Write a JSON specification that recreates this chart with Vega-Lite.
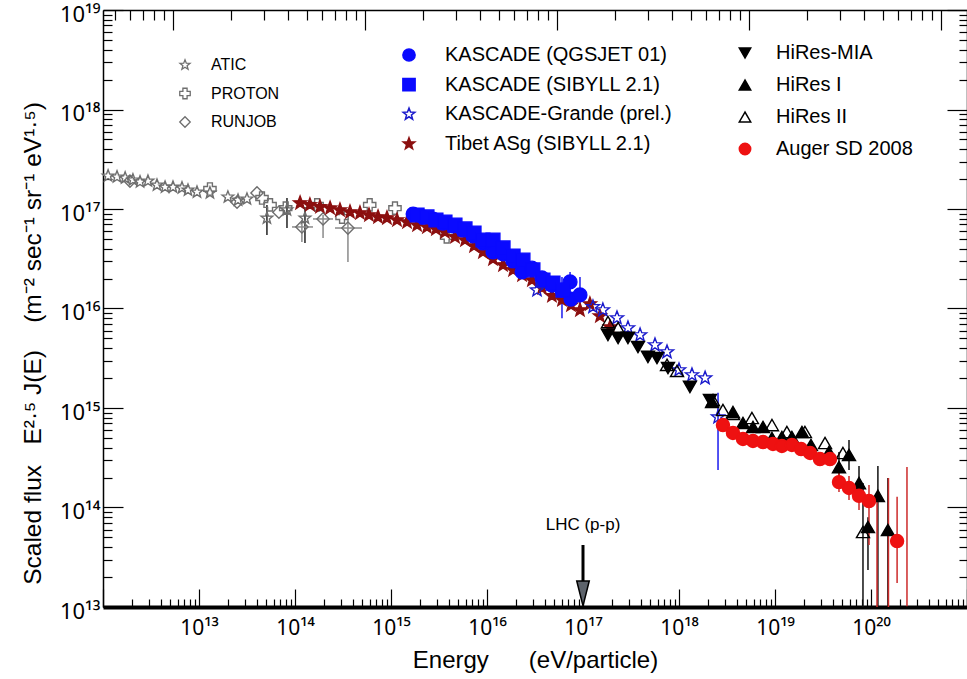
{
  "$schema": "https://vega.github.io/schema/vega-lite/v6.json",
  "width": 864,
  "height": 597,
  "autosize": {"type": "none"},
  "padding": {"left": 103, "top": 10, "right": 0, "bottom": 72},
  "background": "white",
  "config": {
    "font": "Liberation Sans",
    "view": {"stroke": null},
    "legend": {"labelFont": "Liberation Sans", "labelColor": "black", "padding": 0, "symbolStrokeWidth": 1.5, "labelLimit": 400}
  },
  "datasets": {
    "pts": [
      {"s": "ATIC", "E": 1.13e12, "J": 2.15e17},
      {"s": "ATIC", "E": 1.40e12, "J": 2.10e17},
      {"s": "ATIC", "E": 1.70e12, "J": 2.05e17},
      {"s": "ATIC", "E": 2.05e12, "J": 1.96e17},
      {"s": "ATIC", "E": 2.43e12, "J": 1.87e17},
      {"s": "ATIC", "E": 2.94e12, "J": 1.91e17},
      {"s": "ATIC", "E": 3.65e12, "J": 1.74e17},
      {"s": "ATIC", "E": 4.43e12, "J": 1.66e17},
      {"s": "ATIC", "E": 5.36e12, "J": 1.66e17},
      {"s": "ATIC", "E": 6.65e12, "J": 1.63e17},
      {"s": "ATIC", "E": 7.68e12, "J": 1.55e17},
      {"s": "ATIC", "E": 9.53e12, "J": 1.48e17},
      {"s": "ATIC", "E": 1.30e13, "J": 1.45e17},
      {"s": "ATIC", "E": 2.00e13, "J": 1.32e17},
      {"s": "ATIC", "E": 2.55e13, "J": 1.23e17},
      {"s": "ATIC", "E": 3.16e13, "J": 1.26e17},
      {"s": "ATIC", "E": 5.10e13, "J": 8.1e16},
      {"s": "ATIC", "E": 8.25e13, "J": 9.8e16},
      {"s": "ATIC", "E": 1.27e14, "J": 8.1e16},
      {"s": "PROTON", "E": 1.30e13, "J": 1.59e17},
      {"s": "PROTON", "E": 4.53e13, "J": 1.29e17},
      {"s": "PROTON", "E": 5.50e13, "J": 1.10e17},
      {"s": "PROTON", "E": 8.00e13, "J": 1.02e17},
      {"s": "PROTON", "E": 1.70e14, "J": 1.10e17},
      {"s": "PROTON", "E": 3.09e14, "J": 8.3e16},
      {"s": "PROTON", "E": 6.00e14, "J": 1.10e17},
      {"s": "PROTON", "E": 1.10e15, "J": 1.02e17},
      {"s": "PROTON", "E": 3.80e15, "J": 5.25e16},
      {"s": "RUNJOB", "E": 1.91e12, "J": 1.91e17},
      {"s": "RUNJOB", "E": 2.49e13, "J": 1.17e17},
      {"s": "RUNJOB", "E": 4.02e13, "J": 1.45e17},
      {"s": "RUNJOB", "E": 6.80e13, "J": 9.3e16},
      {"s": "RUNJOB", "E": 1.18e14, "J": 6.6e16},
      {"s": "RUNJOB", "E": 1.96e14, "J": 7.94e16},
      {"s": "RUNJOB", "E": 3.56e14, "J": 6.44e16},
      {"s": "Tibet ASg (SIBYLL 2.1)", "E": 1.13e14, "J": 1.15e17},
      {"s": "Tibet ASg (SIBYLL 2.1)", "E": 1.43e14, "J": 1.10e17},
      {"s": "Tibet ASg (SIBYLL 2.1)", "E": 1.82e14, "J": 1.05e17},
      {"s": "Tibet ASg (SIBYLL 2.1)", "E": 2.32e14, "J": 1.02e17},
      {"s": "Tibet ASg (SIBYLL 2.1)", "E": 2.94e14, "J": 9.77e16},
      {"s": "Tibet ASg (SIBYLL 2.1)", "E": 3.74e14, "J": 9.33e16},
      {"s": "Tibet ASg (SIBYLL 2.1)", "E": 4.75e14, "J": 9.12e16},
      {"s": "Tibet ASg (SIBYLL 2.1)", "E": 5.90e14, "J": 8.71e16},
      {"s": "Tibet ASg (SIBYLL 2.1)", "E": 7.33e14, "J": 8.32e16},
      {"s": "Tibet ASg (SIBYLL 2.1)", "E": 9.08e14, "J": 8.13e16},
      {"s": "Tibet ASg (SIBYLL 2.1)", "E": 1.155e15, "J": 7.75e16},
      {"s": "Tibet ASg (SIBYLL 2.1)", "E": 1.47e15, "J": 7.40e16},
      {"s": "Tibet ASg (SIBYLL 2.1)", "E": 1.87e15, "J": 6.90e16},
      {"s": "Tibet ASg (SIBYLL 2.1)", "E": 2.37e15, "J": 6.59e16},
      {"s": "Tibet ASg (SIBYLL 2.1)", "E": 2.94e15, "J": 6.30e16},
      {"s": "Tibet ASg (SIBYLL 2.1)", "E": 3.65e15, "J": 5.87e16},
      {"s": "Tibet ASg (SIBYLL 2.1)", "E": 4.64e15, "J": 5.24e16},
      {"s": "Tibet ASg (SIBYLL 2.1)", "E": 5.90e15, "J": 4.88e16},
      {"s": "Tibet ASg (SIBYLL 2.1)", "E": 7.33e15, "J": 4.25e16},
      {"s": "Tibet ASg (SIBYLL 2.1)", "E": 9.08e15, "J": 3.70e16},
      {"s": "Tibet ASg (SIBYLL 2.1)", "E": 1.155e16, "J": 3.14e16},
      {"s": "Tibet ASg (SIBYLL 2.1)", "E": 1.47e16, "J": 2.74e16},
      {"s": "Tibet ASg (SIBYLL 2.1)", "E": 1.87e16, "J": 2.44e16},
      {"s": "Tibet ASg (SIBYLL 2.1)", "E": 2.32e16, "J": 2.17e16},
      {"s": "Tibet ASg (SIBYLL 2.1)", "E": 2.94e16, "J": 1.93e16},
      {"s": "Tibet ASg (SIBYLL 2.1)", "E": 3.74e16, "J": 1.61e16},
      {"s": "Tibet ASg (SIBYLL 2.1)", "E": 4.75e16, "J": 1.34e16},
      {"s": "Tibet ASg (SIBYLL 2.1)", "E": 6.04e16, "J": 1.22e16},
      {"s": "Tibet ASg (SIBYLL 2.1)", "E": 7.50e16, "J": 1.08e16},
      {"s": "Tibet ASg (SIBYLL 2.1)", "E": 9.30e16, "J": 9.66e15},
      {"s": "Tibet ASg (SIBYLL 2.1)", "E": 1.18e17, "J": 1.11e16},
      {"s": "Tibet ASg (SIBYLL 2.1)", "E": 1.50e17, "J": 8.4e15},
      {"s": "Tibet ASg (SIBYLL 2.1)", "E": 1.91e17, "J": 6.5e15},
      {"s": "KASCADE (QGSJET 01)", "E": 1.70e15, "J": 8.9e16},
      {"s": "KASCADE (QGSJET 01)", "E": 2.15e15, "J": 8.3e16},
      {"s": "KASCADE (QGSJET 01)", "E": 2.74e15, "J": 7.94e16},
      {"s": "KASCADE (QGSJET 01)", "E": 3.47e15, "J": 7.2e16},
      {"s": "KASCADE (QGSJET 01)", "E": 4.42e15, "J": 6.75e16},
      {"s": "KASCADE (QGSJET 01)", "E": 5.62e15, "J": 6.15e16},
      {"s": "KASCADE (QGSJET 01)", "E": 7.15e15, "J": 5.36e16},
      {"s": "KASCADE (QGSJET 01)", "E": 9.08e15, "J": 4.55e16},
      {"s": "KASCADE (QGSJET 01)", "E": 1.155e16, "J": 3.70e16},
      {"s": "KASCADE (QGSJET 01)", "E": 1.47e16, "J": 3.53e16},
      {"s": "KASCADE (QGSJET 01)", "E": 1.87e16, "J": 3.0e16},
      {"s": "KASCADE (QGSJET 01)", "E": 2.32e16, "J": 2.33e16},
      {"s": "KASCADE (QGSJET 01)", "E": 2.94e16, "J": 2.55e16},
      {"s": "KASCADE (QGSJET 01)", "E": 3.74e16, "J": 2.03e16},
      {"s": "KASCADE (QGSJET 01)", "E": 4.75e16, "J": 1.72e16},
      {"s": "KASCADE (QGSJET 01)", "E": 6.04e16, "J": 1.53e16},
      {"s": "KASCADE (QGSJET 01)", "E": 7.33e16, "J": 1.85e16},
      {"s": "KASCADE (QGSJET 01)", "E": 7.50e16, "J": 1.24e16},
      {"s": "KASCADE (QGSJET 01)", "E": 9.30e16, "J": 1.37e16},
      {"s": "KASCADE (SIBYLL 2.1)", "E": 1.87e15, "J": 8.71e16},
      {"s": "KASCADE (SIBYLL 2.1)", "E": 2.37e15, "J": 8.32e16},
      {"s": "KASCADE (SIBYLL 2.1)", "E": 2.94e15, "J": 7.75e16},
      {"s": "KASCADE (SIBYLL 2.1)", "E": 3.65e15, "J": 7.40e16},
      {"s": "KASCADE (SIBYLL 2.1)", "E": 4.64e15, "J": 6.90e16},
      {"s": "KASCADE (SIBYLL 2.1)", "E": 5.90e15, "J": 6.30e16},
      {"s": "KASCADE (SIBYLL 2.1)", "E": 7.33e15, "J": 5.74e16},
      {"s": "KASCADE (SIBYLL 2.1)", "E": 9.08e15, "J": 4.88e16},
      {"s": "KASCADE (SIBYLL 2.1)", "E": 1.155e16, "J": 4.88e16},
      {"s": "KASCADE (SIBYLL 2.1)", "E": 1.47e16, "J": 4.06e16},
      {"s": "KASCADE (SIBYLL 2.1)", "E": 1.87e16, "J": 3.37e16},
      {"s": "KASCADE (SIBYLL 2.1)", "E": 2.37e16, "J": 3.07e16},
      {"s": "KASCADE (SIBYLL 2.1)", "E": 3.01e16, "J": 2.44e16},
      {"s": "KASCADE (SIBYLL 2.1)", "E": 3.83e16, "J": 1.93e16},
      {"s": "KASCADE (SIBYLL 2.1)", "E": 4.87e16, "J": 1.80e16},
      {"s": "KASCADE (SIBYLL 2.1)", "E": 6.19e16, "J": 1.53e16},
      {"s": "KASCADE-Grande (prel.)", "E": 3.32e16, "J": 1.53e16},
      {"s": "KASCADE-Grande (prel.)", "E": 1.27e17, "J": 1.04e16},
      {"s": "KASCADE-Grande (prel.)", "E": 1.61e17, "J": 9.66e15},
      {"s": "KASCADE-Grande (prel.)", "E": 2.26e17, "J": 8.04e15},
      {"s": "KASCADE-Grande (prel.)", "E": 2.94e17, "J": 6.37e15},
      {"s": "KASCADE-Grande (prel.)", "E": 3.93e17, "J": 5.42e15},
      {"s": "KASCADE-Grande (prel.)", "E": 5.62e17, "J": 4.30e15},
      {"s": "KASCADE-Grande (prel.)", "E": 7.50e17, "J": 3.66e15},
      {"s": "KASCADE-Grande (prel.)", "E": 1.00e18, "J": 2.41e15},
      {"s": "KASCADE-Grande (prel.)", "E": 1.365e18, "J": 2.15e15},
      {"s": "KASCADE-Grande (prel.)", "E": 1.87e18, "J": 2.0e15},
      {"s": "KASCADE-Grande (prel.)", "E": 2.55e18, "J": 8.1e14},
      {"s": "HiRes-MIA", "E": 1.82e17, "J": 5.42e15},
      {"s": "HiRes-MIA", "E": 2.32e17, "J": 5.06e15},
      {"s": "HiRes-MIA", "E": 2.94e17, "J": 5.06e15},
      {"s": "HiRes-MIA", "E": 3.74e17, "J": 4.10e15},
      {"s": "HiRes-MIA", "E": 4.75e17, "J": 3.26e15},
      {"s": "HiRes-MIA", "E": 5.90e17, "J": 3.18e15},
      {"s": "HiRes-MIA", "E": 7.68e17, "J": 2.52e15},
      {"s": "HiRes-MIA", "E": 1.30e18, "J": 1.63e15},
      {"s": "HiRes-MIA", "E": 2.10e18, "J": 1.20e15},
      {"s": "HiRes I", "E": 2.21e18, "J": 1.15e15},
      {"s": "HiRes I", "E": 3.65e18, "J": 9.1e14},
      {"s": "HiRes I", "E": 4.64e18, "J": 7.07e14},
      {"s": "HiRes I", "E": 5.90e18, "J": 6.44e14},
      {"s": "HiRes I", "E": 7.50e18, "J": 6.44e14},
      {"s": "HiRes I", "E": 9.30e18, "J": 4.99e14},
      {"s": "HiRes I", "E": 1.18e19, "J": 5.11e14},
      {"s": "HiRes I", "E": 1.50e19, "J": 5.11e14},
      {"s": "HiRes I", "E": 1.91e19, "J": 5.74e14},
      {"s": "HiRes I", "E": 2.37e19, "J": 4.25e14},
      {"s": "HiRes I", "E": 3.65e19, "J": 3.61e14},
      {"s": "HiRes I", "E": 4.64e19, "J": 2.55e14},
      {"s": "HiRes I", "E": 5.90e19, "J": 3.37e14},
      {"s": "HiRes I", "E": 7.50e19, "J": 1.76e14},
      {"s": "HiRes I", "E": 9.30e19, "J": 6.37e13},
      {"s": "HiRes I", "E": 1.18e20, "J": 1.31e14},
      {"s": "HiRes I", "E": 1.50e20, "J": 5.94e13},
      {"s": "HiRes II", "E": 1.82e17, "J": 7.3e15},
      {"s": "HiRes II", "E": 2.32e17, "J": 6.37e15},
      {"s": "HiRes II", "E": 7.50e17, "J": 2.71e15},
      {"s": "HiRes II", "E": 9.53e17, "J": 2.36e15},
      {"s": "HiRes II", "E": 2.26e18, "J": 1.20e15},
      {"s": "HiRes II", "E": 2.87e18, "J": 9.55e14},
      {"s": "HiRes II", "E": 3.65e18, "J": 8.7e14},
      {"s": "HiRes II", "E": 5.75e18, "J": 7.93e14},
      {"s": "HiRes II", "E": 9.30e18, "J": 6.74e14},
      {"s": "HiRes II", "E": 1.33e19, "J": 5.74e14},
      {"s": "HiRes II", "E": 2.05e19, "J": 5.74e14},
      {"s": "HiRes II", "E": 3.32e19, "J": 4.45e14},
      {"s": "HiRes II", "E": 5.10e19, "J": 3.53e14},
      {"s": "HiRes II", "E": 8.25e19, "J": 5.67e13},
      {"s": "Auger SD 2008", "E": 2.87e18, "J": 6.74e14},
      {"s": "Auger SD 2008", "E": 3.65e18, "J": 5.61e14},
      {"s": "Auger SD 2008", "E": 4.64e18, "J": 4.88e14},
      {"s": "Auger SD 2008", "E": 5.90e18, "J": 4.66e14},
      {"s": "Auger SD 2008", "E": 7.50e18, "J": 4.55e14},
      {"s": "Auger SD 2008", "E": 9.53e18, "J": 4.35e14},
      {"s": "Auger SD 2008", "E": 1.18e19, "J": 4.15e14},
      {"s": "Auger SD 2008", "E": 1.50e19, "J": 4.25e14},
      {"s": "Auger SD 2008", "E": 1.87e19, "J": 3.87e14},
      {"s": "Auger SD 2008", "E": 2.32e19, "J": 3.53e14},
      {"s": "Auger SD 2008", "E": 2.94e19, "J": 3.07e14},
      {"s": "Auger SD 2008", "E": 3.74e19, "J": 3.07e14},
      {"s": "Auger SD 2008", "E": 4.64e19, "J": 1.80e14},
      {"s": "Auger SD 2008", "E": 5.90e19, "J": 1.57e14},
      {"s": "Auger SD 2008", "E": 7.50e19, "J": 1.31e14},
      {"s": "Auger SD 2008", "E": 9.53e19, "J": 1.16e14},
      {"s": "Auger SD 2008", "E": 1.87e20, "J": 4.6e13}
    ],
    "err": [
      {"s": "ATIC", "E": 5.10e13, "lo": 5.48e16, "hi": 1.10e17},
      {"s": "ATIC", "E": 8.25e13, "lo": 6.44e16, "hi": 1.29e17},
      {"s": "ATIC", "E": 1.27e14, "lo": 4.55e16, "hi": 1.05e17},
      {"s": "RUNJOB", "E": 1.18e14, "lo": 4.66e16, "hi": 7.40e16},
      {"s": "RUNJOB", "E": 1.96e14, "lo": 5.12e16, "hi": 8.71e16},
      {"s": "RUNJOB", "E": 3.56e14, "lo": 2.93e16, "hi": 7.75e16},
      {"s": "KASCADE (QGSJET 01)", "E": 7.33e16, "lo": 1.37e16, "hi": 2.33e16},
      {"s": "KASCADE (QGSJET 01)", "E": 9.30e16, "lo": 9.0e15, "hi": 2.07e16},
      {"s": "KASCADE (QGSJET 01)", "E": 6.04e16, "lo": 8.0e15, "hi": 2.07e16},
      {"s": "KASCADE-Grande (prel.)", "E": 2.55e18, "lo": 2.38e14, "hi": 1.42e15},
      {"s": "HiRes I", "E": 4.64e19, "lo": 1.80e14, "hi": 3.61e14},
      {"s": "HiRes I", "E": 5.90e19, "lo": 2.38e14, "hi": 4.77e14},
      {"s": "HiRes I", "E": 7.50e19, "lo": 1.2e14, "hi": 2.61e14},
      {"s": "HiRes II", "E": 8.25e19, "lo": 1.0e13, "hi": 1.76e14},
      {"s": "HiRes I", "E": 9.30e19, "lo": 2.35e13, "hi": 8.0e13},
      {"s": "HiRes I", "E": 1.18e20, "lo": 1.0e13, "hi": 2.61e14},
      {"s": "HiRes I", "E": 1.50e20, "lo": 1.0e13, "hi": 1.98e14},
      {"s": "Auger SD 2008", "E": 4.64e19, "lo": 1.43e14, "hi": 2.27e14},
      {"s": "Auger SD 2008", "E": 5.90e19, "lo": 1.19e14, "hi": 2.07e14},
      {"s": "Auger SD 2008", "E": 7.50e19, "lo": 9.44e13, "hi": 1.72e14},
      {"s": "Auger SD 2008", "E": 9.53e19, "lo": 4.20e13, "hi": 1.68e14},
      {"s": "Auger SD 2008", "E": 1.87e20, "lo": 1.74e13, "hi": 1.28e14},
      {"s": "Auger SD 2008", "E": 1.155e20, "lo": 1.0e13, "hi": 1.40e14},
      {"s": "Auger SD 2008", "E": 1.52e20, "lo": 1.0e13, "hi": 1.98e14},
      {"s": "Auger SD 2008", "E": 2.37e20, "lo": 1.02e13, "hi": 2.55e14}
    ],
    "xerr": [
      {"s": "RUNJOB", "E1": 9.3e13, "E2": 1.54e14, "J": 6.6e16},
      {"s": "RUNJOB", "E1": 1.54e14, "E2": 2.49e14, "J": 7.94e16},
      {"s": "RUNJOB", "E1": 2.61e14, "E2": 4.99e14, "J": 6.44e16}
    ],
    "lhc": [
      {"E": 1e17, "top": 4.2e13, "bot": 1.6e13, "head": 1.37e13, "ty": 6.67e13, "label": "LHC (p-p)"}
    ]
  },
  "layer": [
    {
      "data": {"name": "err"},
      "mark": {"type": "rule", "strokeWidth": 1.5},
      "encoding": {
        "x": {
          "field": "E", "type": "quantitative",
          "scale": {"type": "log", "domain": [1e12, 1e21], "nice": false},
          "axis": {
            "orient": "bottom",
            "values": [1e12,2e12,3e12,4e12,5e12,6e12,7e12,8e12,9e12,1e13,2e13,3e13,4e13,5e13,6e13,7e13,8e13,9e13,1e14,2e14,3e14,4e14,5e14,6e14,7e14,8e14,9e14,1e15,2e15,3e15,4e15,5e15,6e15,7e15,8e15,9e15,1e16,2e16,3e16,4e16,5e16,6e16,7e16,8e16,9e16,1e17,2e17,3e17,4e17,5e17,6e17,7e17,8e17,9e17,1e18,2e18,3e18,4e18,5e18,6e18,7e18,8e18,9e18,1e19,2e19,3e19,4e19,5e19,6e19,7e19,8e19,9e19,1e20,2e20,3e20,4e20,5e20,6e20,7e20,8e20,9e20,1e21],
            "tickSize": {"condition": {"test": "abs(log(datum.value)/LN10 - round(log(datum.value)/LN10)) < 0.001", "value": -18}, "value": -8},
            "tickColor": "black", "tickWidth": 1.2,
            "domainColor": "black", "domainWidth": 4,
            "grid": false,
            "labelExpr": "(abs(log(datum.value)/LN10 - round(log(datum.value)/LN10)) < 0.001 && round(log(datum.value)/LN10) >= 13 && round(log(datum.value)/LN10) <= 20) ? '10' + ['⁰','¹','²','³','⁴','⁵','⁶','⁷','⁸','⁹'][floor(round(log(datum.value)/LN10)/10)] + ['⁰','¹','²','³','⁴','⁵','⁶','⁷','⁸','⁹'][round(log(datum.value)/LN10) % 10] : ''",
            "labelFont": "Noto Sans", "labelFontSize": 21, "labelColor": "black", "labelPadding": 28,
            "labelOverlap": false, "labelFlush": false, "labelBound": false,
            "title": "Energy\u00a0\u00a0\u00a0\u00a0\u00a0 (eV/particle)", "titleFontSize": 24, "titleFontWeight": "normal", "titleColor": "black", "titlePadding": 0
          }
        },
        "y": {
          "field": "lo", "type": "quantitative",
          "scale": {"type": "log", "domain": [1e13, 1e19], "nice": false},
          "axis": {
            "orient": "left",
            "values": [1e13,2e13,3e13,4e13,5e13,6e13,7e13,8e13,9e13,1e14,2e14,3e14,4e14,5e14,6e14,7e14,8e14,9e14,1e15,2e15,3e15,4e15,5e15,6e15,7e15,8e15,9e15,1e16,2e16,3e16,4e16,5e16,6e16,7e16,8e16,9e16,1e17,2e17,3e17,4e17,5e17,6e17,7e17,8e17,9e17,1e18,2e18,3e18,4e18,5e18,6e18,7e18,8e18,9e18,1e19],
            "tickSize": {"condition": {"test": "abs(log(datum.value)/LN10 - round(log(datum.value)/LN10)) < 0.001", "value": -20}, "value": -9},
            "tickColor": "black", "tickWidth": 1.2,
            "domainColor": "black", "domainWidth": 1.5,
            "grid": false,
            "labelExpr": "(abs(log(datum.value)/LN10 - round(log(datum.value)/LN10)) < 0.001) ? '10' + ['⁰','¹','²','³','⁴','⁵','⁶','⁷','⁸','⁹'][floor(round(log(datum.value)/LN10)/10)] + ['⁰','¹','²','³','⁴','⁵','⁶','⁷','⁸','⁹'][round(log(datum.value)/LN10) % 10] : ''",
            "labelFont": "Noto Sans", "labelFontSize": 22, "labelColor": "black", "labelPadding": 23,
            "labelOverlap": false, "labelFlush": false, "labelBound": false, "labelOffset": 4,
            "title": "Scaled flux\u00a0\u00a0 E²·⁵ J(E)\u00a0\u00a0\u00a0 (m⁻² sec⁻¹ sr⁻¹ eV¹·⁵)", "titleFontSize": 24.5, "titleFontWeight": "normal", "titleColor": "black", "titlePadding": 14, "titleY": 333
          }
        },
        "y2": {"field": "hi"},
        "color": {
          "field": "s", "type": "nominal",
          "scale": {"domain": ["ATIC", "RUNJOB", "KASCADE (QGSJET 01)", "KASCADE-Grande (prel.)", "HiRes I", "HiRes II", "Auger SD 2008"],
                    "range": ["#222222", "#8a8a8a", "#1a1aee", "#1a1aee", "#111111", "#111111", "#cc2a2a"]},
          "legend": null
        }
      }
    },
    {
      "data": {"name": "xerr"},
      "mark": {"type": "rule", "strokeWidth": 1.5, "color": "#8a8a8a"},
      "encoding": {
        "x": {
          "field": "E1", "type": "quantitative",
          "scale": {"type": "log", "domain": [1e12, 1e21], "nice": false},
          "axis": {
            "orient": "top",
            "values": [1.3326e12,1.919e12,2.612e12,3.412e12,4.318e12,5.33e12,2.132e13,4.797e13,8.529e13,1.3326e14,1.919e14,2.612e14,3.412e14,4.318e14,5.33e14,2.132e15,4.797e15,8.529e15,1.3326e16,1.919e16,2.612e16,3.412e16,4.318e16,5.33e16,2.132e17,4.797e17,8.529e17,1.3326e18,1.919e18,2.612e18,3.412e18,4.318e18,5.33e18,2.132e19,4.797e19,8.529e19,1.3326e20,1.919e20,2.612e20,3.412e20,4.318e20,5.33e20],
            "tickSize": {"condition": {"test": "abs(datum.value / pow(10, floor(log(datum.value)/LN10)) - 5.33) < 0.01", "value": -20}, "value": -10},
            "tickColor": "black", "tickWidth": 1.2,
            "domainColor": "black", "domainWidth": 1.5,
            "grid": false, "labels": false, "title": null
          }
        },
        "x2": {"field": "E2"},
        "y": {
          "field": "J", "type": "quantitative",
          "scale": {"type": "log", "domain": [1e13, 1e19], "nice": false},
          "axis": {
            "orient": "right",
            "values": [1e13,2e13,3e13,4e13,5e13,6e13,7e13,8e13,9e13,1e14,2e14,3e14,4e14,5e14,6e14,7e14,8e14,9e14,1e15,2e15,3e15,4e15,5e15,6e15,7e15,8e15,9e15,1e16,2e16,3e16,4e16,5e16,6e16,7e16,8e16,9e16,1e17,2e17,3e17,4e17,5e17,6e17,7e17,8e17,9e17,1e18,2e18,3e18,4e18,5e18,6e18,7e18,8e18,9e18,1e19],
            "tickSize": {"condition": {"test": "abs(log(datum.value)/LN10 - round(log(datum.value)/LN10)) < 0.001", "value": -20}, "value": -8},
            "tickColor": "black", "tickWidth": 1.2,
            "domainColor": "black", "domainWidth": 1.5,
            "grid": false, "labels": false, "title": null
          }
        }
      }
    },
    {
      "data": {"name": "pts"},
      "transform": [{"filter": {"field": "s", "oneOf": ["ATIC", "PROTON", "RUNJOB"]}}],
      "mark": {"type": "point", "filled": false, "color": "#6e6e6e", "strokeWidth": 1.4, "opacity": 1, "size": 150},
      "encoding": {
        "x": {"field": "E", "type": "quantitative", "scale": {"type": "log", "domain": [1e12, 1e21], "nice": false}, "axis": null},
        "y": {"field": "J", "type": "quantitative", "scale": {"type": "log", "domain": [1e13, 1e19], "nice": false}, "axis": null},
        "shape": {
          "field": "s", "type": "nominal",
          "scale": {"domain": ["ATIC", "PROTON", "RUNJOB"], "range": ["M0,-1L0.247,-0.34L0.951,-0.309L0.399,0.13L0.588,0.809L0,0.42L-0.588,0.809L-0.399,0.13L-0.951,-0.309L-0.247,-0.34Z", "cross", "diamond"]},
          "legend": {"orient": "none", "legendX": 74, "legendY": 47, "title": null, "labelFontSize": 16, "rowPadding": 12.5, "labelOffset": 18, "symbolSize": 110, "symbolStrokeColor": "#6e6e6e", "symbolStrokeWidth": 1.3}
        }
      }
    },
    {
      "data": {"name": "pts"},
      "transform": [{"filter": {"field": "s", "oneOf": ["Tibet ASg (SIBYLL 2.1)", "KASCADE (QGSJET 01)", "KASCADE (SIBYLL 2.1)", "KASCADE-Grande (prel.)"]}}],
      "mark": {"type": "point", "filled": true, "strokeWidth": 1.4, "opacity": 1, "size": 190},
      "encoding": {
        "x": {"field": "E", "type": "quantitative", "scale": {"type": "log", "domain": [1e12, 1e21], "nice": false}, "axis": null},
        "y": {"field": "J", "type": "quantitative", "scale": {"type": "log", "domain": [1e13, 1e19], "nice": false}, "axis": null},
        "shape": {
          "field": "s", "type": "nominal",
          "scale": {"domain": ["KASCADE (QGSJET 01)", "KASCADE (SIBYLL 2.1)", "KASCADE-Grande (prel.)", "Tibet ASg (SIBYLL 2.1)"], "range": ["circle", "square", "M0,-1L0.247,-0.34L0.951,-0.309L0.399,0.13L0.588,0.809L0,0.42L-0.588,0.809L-0.399,0.13L-0.951,-0.309L-0.247,-0.34Z", "M0,-1L0.247,-0.34L0.951,-0.309L0.399,0.13L0.588,0.809L0,0.42L-0.588,0.809L-0.399,0.13L-0.951,-0.309L-0.247,-0.34Z"]},
          "legend": {"orient": "none", "legendX": 296, "legendY": 35, "title": null, "labelFontSize": 20, "rowPadding": 9.6, "labelOffset": 26, "symbolSize": 150}
        },
        "fill": {
          "field": "s", "type": "nominal",
          "scale": {"domain": ["KASCADE (QGSJET 01)", "KASCADE (SIBYLL 2.1)", "KASCADE-Grande (prel.)", "Tibet ASg (SIBYLL 2.1)"], "range": ["#0a0aff", "#0a0aff", "transparent", "#8b0f0f"]},
          "legend": {"orient": "none", "legendX": 296, "legendY": 35, "title": null, "labelFontSize": 20, "rowPadding": 9.6, "labelOffset": 26, "symbolSize": 150}
        },
        "stroke": {
          "field": "s", "type": "nominal",
          "scale": {"domain": ["KASCADE (QGSJET 01)", "KASCADE (SIBYLL 2.1)", "KASCADE-Grande (prel.)", "Tibet ASg (SIBYLL 2.1)"], "range": ["#0a0aff", "#0a0aff", "#1a1acc", "#8b0f0f"]},
          "legend": {"orient": "none", "legendX": 296, "legendY": 35, "title": null, "labelFontSize": 20, "rowPadding": 9.6, "labelOffset": 26, "symbolSize": 150}
        }
      }
    },
    {
      "data": {"name": "pts"},
      "transform": [{"filter": {"field": "s", "oneOf": ["HiRes-MIA", "HiRes I", "HiRes II", "Auger SD 2008"]}}],
      "mark": {"type": "point", "filled": true, "strokeWidth": 1.4, "opacity": 1, "size": 170},
      "encoding": {
        "x": {"field": "E", "type": "quantitative", "scale": {"type": "log", "domain": [1e12, 1e21], "nice": false}, "axis": null},
        "y": {"field": "J", "type": "quantitative", "scale": {"type": "log", "domain": [1e13, 1e19], "nice": false}, "axis": null},
        "shape": {
          "field": "s", "type": "nominal",
          "scale": {"domain": ["HiRes-MIA", "HiRes I", "HiRes II", "Auger SD 2008"], "range": ["triangle-down", "triangle-up", "triangle-up", "circle"]},
          "legend": {"orient": "none", "legendX": 632, "legendY": 33, "title": null, "labelFontSize": 20, "rowPadding": 12, "labelOffset": 21, "symbolSize": 130}
        },
        "fill": {
          "field": "s", "type": "nominal",
          "scale": {"domain": ["HiRes-MIA", "HiRes I", "HiRes II", "Auger SD 2008"], "range": ["#000000", "#000000", "transparent", "#ee1111"]},
          "legend": {"orient": "none", "legendX": 632, "legendY": 33, "title": null, "labelFontSize": 20, "rowPadding": 12, "labelOffset": 21, "symbolSize": 130}
        },
        "stroke": {
          "field": "s", "type": "nominal",
          "scale": {"domain": ["HiRes-MIA", "HiRes I", "HiRes II", "Auger SD 2008"], "range": ["#000000", "#000000", "#000000", "#ee1111"]},
          "legend": {"orient": "none", "legendX": 632, "legendY": 33, "title": null, "labelFontSize": 20, "rowPadding": 12, "labelOffset": 21, "symbolSize": 130}
        }
      }
    },
    {
      "data": {"name": "lhc"},
      "mark": {"type": "rule", "strokeWidth": 3, "color": "black"},
      "encoding": {
        "x": {"field": "E", "type": "quantitative", "scale": {"type": "log", "domain": [1e12, 1e21], "nice": false}, "axis": null},
        "y": {"field": "top", "type": "quantitative", "scale": {"type": "log", "domain": [1e13, 1e19], "nice": false}, "axis": null},
        "y2": {"field": "bot"}
      }
    },
    {
      "data": {"name": "lhc"},
      "mark": {"type": "point", "shape": "M-0.5,-1L0.5,-1L0,1Z", "size": 625, "filled": true, "fill": "#5d636b", "stroke": "black", "strokeWidth": 1.5, "opacity": 1},
      "encoding": {
        "x": {"field": "E", "type": "quantitative", "scale": {"type": "log", "domain": [1e12, 1e21], "nice": false}, "axis": null},
        "y": {"field": "head", "type": "quantitative", "scale": {"type": "log", "domain": [1e13, 1e19], "nice": false}, "axis": null}
      }
    },
    {
      "data": {"name": "lhc"},
      "mark": {"type": "text", "fontSize": 17, "color": "black", "font": "Liberation Sans"},
      "encoding": {
        "x": {"field": "E", "type": "quantitative", "scale": {"type": "log", "domain": [1e12, 1e21], "nice": false}, "axis": null},
        "y": {"field": "ty", "type": "quantitative", "scale": {"type": "log", "domain": [1e13, 1e19], "nice": false}, "axis": null},
        "text": {"field": "label"}
      }
    }
  ],
  "resolve": {
    "scale": {"shape": "independent", "fill": "independent", "stroke": "independent", "color": "independent"},
    "axis": {"x": "independent", "y": "independent"},
    "legend": {"shape": "independent", "fill": "independent", "stroke": "independent", "color": "independent"}
  }
}
